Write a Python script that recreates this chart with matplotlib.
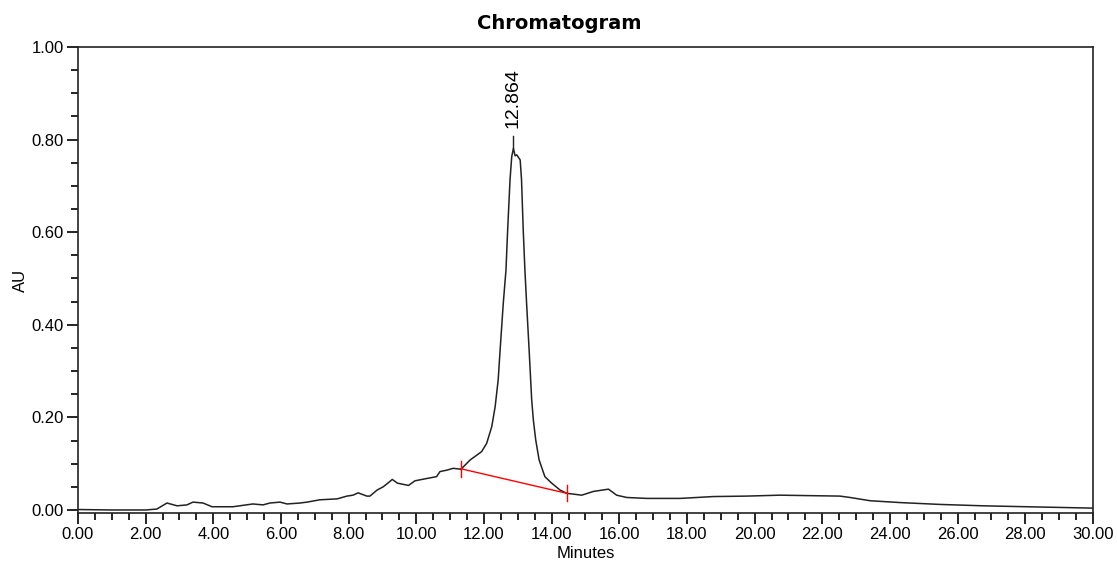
import matplotlib
matplotlib.use("Agg")
from matplotlib import pyplot as plt
from matplotlib.ticker import MultipleLocator

plt.rcParams['font.family'] = ['Liberation Sans', 'DejaVu Sans']

# trace (minutes, AU)
minutes = [0.0, 1.0, 2.0, 2.33, 2.63, 2.93, 3.22, 3.40, 3.70, 3.96, 4.58, 5.17, 5.47,
           5.67, 5.97, 6.18, 6.56, 6.77, 7.15, 7.66, 7.95, 8.13, 8.28, 8.54, 8.63,
           8.84, 9.02, 9.16, 9.29, 9.44, 9.77, 9.96, 10.31, 10.60, 10.70, 10.90, 11.09,
           11.32, 11.59, 11.93, 12.08, 12.23, 12.33, 12.42, 12.47, 12.57, 12.65, 12.70,
           12.77, 12.82, 12.87, 12.92, 12.97, 13.07, 13.11, 13.16, 13.21, 13.26,
           13.34, 13.41, 13.46, 13.53, 13.63, 13.80, 14.00, 14.25, 14.45, 14.89, 15.23,
           15.68, 15.92, 16.22, 16.81, 17.80, 18.78, 19.77, 20.75, 21.60, 22.52, 22.82,
           23.41, 24.30, 25.48, 26.76, 28.04, 30.0]
au = [0.001, 0.0, 0.0, 0.002, 0.015, 0.009, 0.011, 0.017, 0.015, 0.007, 0.007, 0.013,
      0.011, 0.015, 0.017, 0.013, 0.015, 0.017, 0.022, 0.024, 0.030, 0.032, 0.037,
      0.030, 0.030, 0.043, 0.050, 0.058, 0.066, 0.058, 0.053, 0.063, 0.068, 0.072,
      0.083, 0.086, 0.090,
      0.088, 0.108, 0.126, 0.144, 0.180, 0.223, 0.281, 0.338, 0.446, 0.518,
      0.605, 0.713, 0.763, 0.781, 0.765, 0.767, 0.756, 0.713, 0.605, 0.518, 0.446,
      0.338, 0.238, 0.194, 0.151, 0.108, 0.072, 0.058, 0.043, 0.036, 0.032, 0.040,
      0.045, 0.032, 0.027, 0.025, 0.025, 0.029, 0.030, 0.032, 0.031, 0.030, 0.027,
      0.020, 0.016, 0.012, 0.009, 0.007, 0.004]

peak_rt = 12.864
peak_top = 0.781
base_start = (11.32, 0.089)
base_end = (14.45, 0.036)

fig = plt.figure(figsize=(11.17, 5.62), dpi=100)
ax = fig.add_axes([0.0698, 0.0872, 0.9087, 0.8292])

ax.plot(minutes, au, color="#222222", lw=1.1)

# integration baseline with end marks
ax.plot([base_start[0], base_end[0]], [base_start[1], base_end[1]], color="red", lw=1.0)
for bx, by in (base_start, base_end):
    ax.plot([bx, bx], [by - 0.017, by + 0.017], color="red", lw=1.0)

# peak label
ax.plot([peak_rt, peak_rt], [peak_top, peak_top + 0.027], color="#222222", lw=1.0)
ax.text(peak_rt, peak_top + 0.043, "12.864", rotation=90, ha="center", va="bottom",
        fontsize=14)

ax.set_xlim(0, 30)
ax.set_ylim(-0.0065, 1.0)
ax.xaxis.set_major_locator(MultipleLocator(2))
ax.xaxis.set_minor_locator(MultipleLocator(0.5))
ax.yaxis.set_major_locator(MultipleLocator(0.2))
ax.yaxis.set_minor_locator(MultipleLocator(0.05))
ax.xaxis.set_major_formatter(lambda v, p: f"{v:.2f}")
ax.yaxis.set_major_formatter(lambda v, p: f"{v:.2f}")
ax.tick_params(which="major", length=8, width=1.2, labelsize=12, direction="out", pad=2)
ax.tick_params(which="minor", length=5, width=1.2, direction="out")
for s in ax.spines.values():
    s.set_linewidth(1.2)
    s.set_color("#222222")

ax.set_xlabel("Minutes", fontsize=12, va="center")
ax.xaxis.set_label_coords(0.5, -0.086)
ax.set_ylabel("AU", fontsize=12, va="center")
ax.yaxis.set_label_coords(-0.057, 0.5)

fig.text(0.5005, 0.958, "Chromatogram", ha="center", va="center", fontsize=14,
         fontweight="bold", family=["DejaVu Sans"])

fig.savefig("out.png", dpi=100)
